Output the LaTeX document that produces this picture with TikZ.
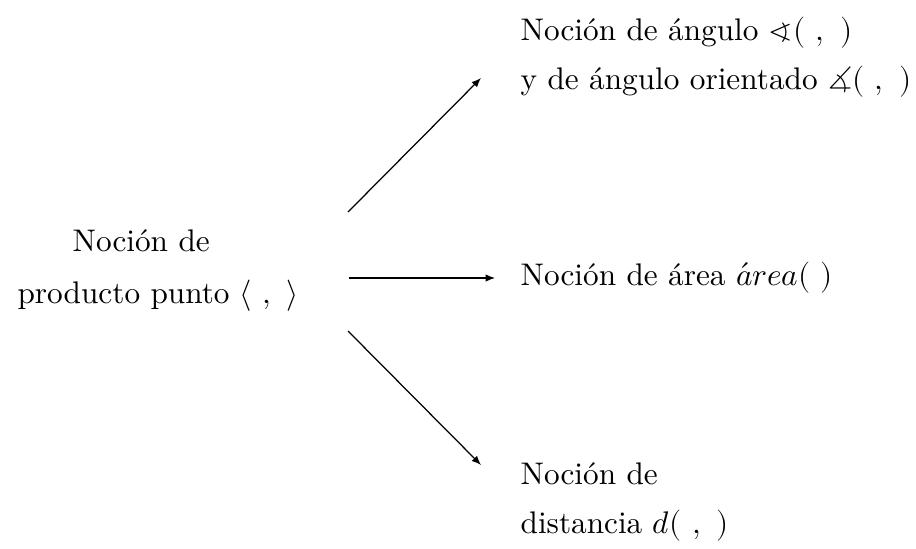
\documentclass[tikz,border=0pt]{standalone}
\usepackage{unicode-math}
\setmathfont{Latin Modern Math}
\usetikzlibrary{arrows.meta}
\begin{document}
\begin{tikzpicture}[x=0.32pt,y=-0.32pt,
  txt/.style={inner sep=0pt,anchor=base west},
  arr/.style={line width=0.4pt,-{Latex[length=3pt,width=2.4pt]}}]
\useasboundingbox (0,0) rectangle (916,548);
\node[txt] (l1) at (72,251) {Noción de};
\node[txt] (l2) at (17,303) {producto punto $\langle\ ,\ \rangle$};
\node[txt] (a1) at (520,40) {Noción de ángulo $\sphericalangle(\ ,\ )$};
\node[txt] (a2) at (520,89) {y de ángulo orientado $\measuredangle(\ ,\ )$};
\node[txt] (b1) at (520,285) {Noción de área $\acute{a}rea(\ )$};
\node[txt] (c1) at (520,484) {Noción de};
\node[txt] (c2) at (520,533) {distancia $d(\ ,\ )$};
\coordinate (s1) at (348,212);
\coordinate (e1) at (481,78);
\coordinate (s2) at (349,278);
\coordinate (e2) at (495,278);
\coordinate (s3) at (348,331);
\coordinate (e3) at (481,465);
\draw[arr] (s1) -- (e1);
\draw[arr] (s2) -- (e2);
\draw[arr] (s3) -- (e3);
\end{tikzpicture}
\end{document}
